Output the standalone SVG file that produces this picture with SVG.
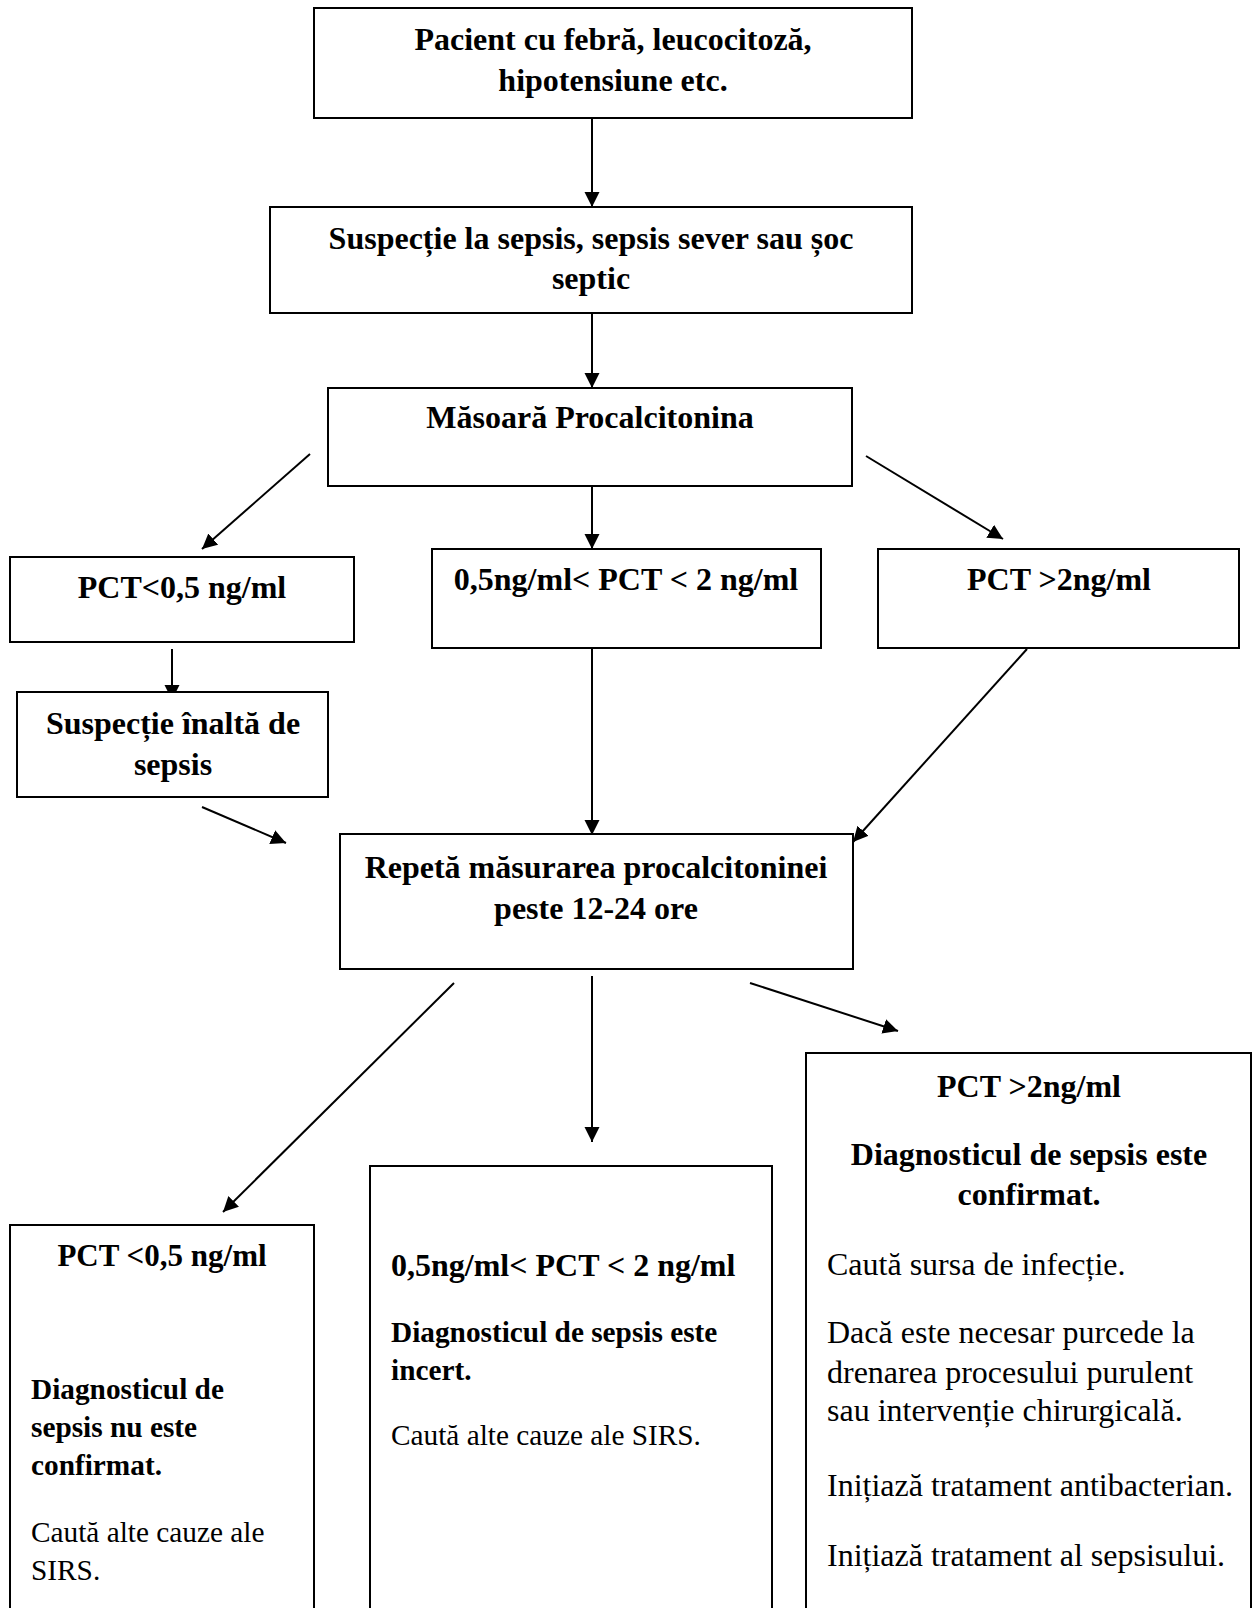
<svg xmlns="http://www.w3.org/2000/svg" width="1253" height="1608" viewBox="0 0 1253 1608">
<style>
.box{fill:#fff;stroke:#000;stroke-width:2}
.t{font-family:"Liberation Serif","Times New Roman",serif;fill:#000}
.b{font-weight:bold;font-size:32px}
.c{text-anchor:middle}
.bs{font-weight:bold;font-size:29.3px}
.r{font-size:29.3px}
.r32{font-size:32px}
.ln{stroke:#000;stroke-width:2;fill:none;marker-end:url(#ah)}
</style>
<defs>
<marker id="ah" markerUnits="userSpaceOnUse" markerWidth="16" markerHeight="16" refX="15" refY="7.5" orient="auto">
<path d="M0,0 L15,7.5 L0,15 Z" fill="#000"/>
</marker>
</defs>
<rect width="1253" height="1608" fill="#fff"/>
<g id="connectors">
<line class="ln" x1="592" y1="118" x2="592" y2="207"/>
<line class="ln" x1="592" y1="313" x2="592" y2="388"/>
<line class="ln" x1="310" y1="454" x2="202" y2="549"/>
<line class="ln" x1="592" y1="486" x2="592" y2="549"/>
<line class="ln" x1="866" y1="456" x2="1003" y2="539"/>
<line class="ln" x1="172" y1="649" x2="172" y2="700"/>
<line class="ln" x1="202" y1="807" x2="286" y2="843"/>
<line class="ln" x1="592" y1="643" x2="592" y2="835"/>
<line class="ln" x1="1027" y1="649" x2="853" y2="842"/>
<line class="ln" x1="454" y1="983" x2="223" y2="1212"/>
<line class="ln" x1="592" y1="976" x2="592" y2="1142"/>
<line class="ln" x1="750" y1="983" x2="898" y2="1031"/>
</g>
<g id="n1">
<rect class="box" x="314" y="8" width="598" height="110"/>
<text class="t b c" x="613" y="50">Pacient cu febră, leucocitoză,</text>
<text class="t b c" x="613" y="91">hipotensiune etc.</text>
</g>
<g id="n2">
<rect class="box" x="270" y="207" width="642" height="106"/>
<text class="t b c" x="591" y="249">Suspecție la sepsis, sepsis sever sau șoc</text>
<text class="t b c" x="591" y="289">septic</text>
</g>
<g id="n3">
<rect class="box" x="328" y="388" width="524" height="98"/>
<text class="t b c" x="590" y="428">Măsoară Procalcitonina</text>
</g>
<g id="n4">
<rect class="box" x="10" y="557" width="344" height="85"/>
<text class="t b c" x="182" y="598">PCT&lt;0,5 ng/ml</text>
</g>
<g id="n5">
<rect class="box" x="432" y="549" width="389" height="99"/>
<text class="t b c" x="626" y="590">0,5ng/ml&lt; PCT &lt; 2 ng/ml</text>
</g>
<g id="n6">
<rect class="box" x="878" y="549" width="361" height="99"/>
<text class="t b c" x="1059" y="590">PCT &gt;2ng/ml</text>
</g>
<g id="n7">
<rect class="box" x="17" y="692" width="311" height="105"/>
<text class="t b c" x="173" y="734">Suspecție înaltă de</text>
<text class="t b c" x="173" y="775">sepsis</text>
</g>
<g id="n8">
<rect class="box" x="340" y="834" width="513" height="135"/>
<text class="t b c" x="596" y="878">Repetă măsurarea procalcitoninei</text>
<text class="t b c" x="596" y="919">peste 12-24 ore</text>
</g>
<g id="n9">
<rect class="box" x="10" y="1225" width="304" height="420"/>
<text class="t c" style="font-weight:bold;font-size:31px" x="162" y="1266">PCT &lt;0,5 ng/ml</text>
<text class="t bs" x="31" y="1399">Diagnosticul de</text>
<text class="t bs" x="31" y="1437">sepsis nu este</text>
<text class="t bs" x="31" y="1475">confirmat.</text>
<text class="t r" x="31" y="1542">Caută alte cauze ale</text>
<text class="t r" x="31" y="1580">SIRS.</text>
</g>
<g id="n10">
<rect class="box" x="370" y="1166" width="402" height="480"/>
<text class="t b" x="391" y="1276">0,5ng/ml&lt; PCT &lt; 2 ng/ml</text>
<text class="t bs" x="391" y="1342">Diagnosticul de sepsis este</text>
<text class="t bs" x="391" y="1380">incert.</text>
<text class="t r" x="391" y="1445">Caută alte cauze ale SIRS.</text>
</g>
<g id="n11">
<rect class="box" x="806" y="1053" width="445" height="600"/>
<text class="t b c" x="1029" y="1097">PCT &gt;2ng/ml</text>
<text class="t b c" x="1029" y="1165">Diagnosticul de sepsis este</text>
<text class="t b c" x="1029" y="1205">confirmat.</text>
<text class="t r32" x="827" y="1275">Caută sursa de infecție.</text>
<text class="t r32" x="827" y="1343">Dacă este necesar purcede la</text>
<text class="t r32" x="827" y="1383">drenarea procesului purulent</text>
<text class="t r32" x="827" y="1421">sau intervenție chirurgicală.</text>
<text class="t r32" x="827" y="1496">Inițiază tratament antibacterian.</text>
<text class="t r32" x="827" y="1566">Inițiază tratament al sepsisului.</text>
</g>
</svg>
